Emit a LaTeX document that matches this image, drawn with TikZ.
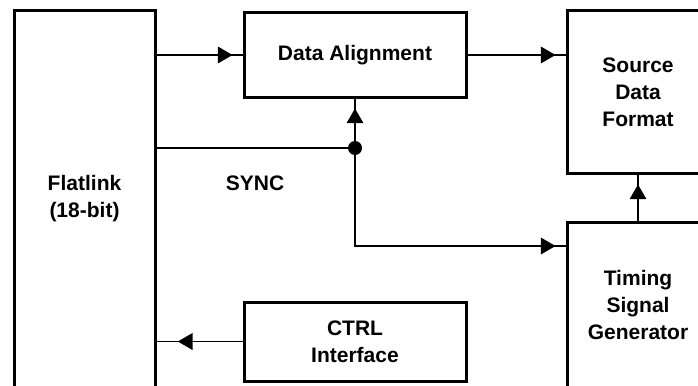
\documentclass[tikz,border=0pt]{standalone}
\usepackage{fontspec}
\setmainfont{Liberation Sans}
\usetikzlibrary{arrows.meta}

\tikzset{
  block/.style={rectangle, draw = black, line width = 2.25pt, text = black,
    align = center, font = \bfseries\fontsize{15.75}{20.25}\selectfont},
  flow/.style={line width = 0.9pt,
    postaction={draw, -{Triangle[length=11pt,width=12.5pt]}, shorten >=#1}},
  flow/.default=7.5pt
}

\begin{document}
\begin{tikzpicture}[x=0.75pt, y=-0.75pt]
\path[use as bounding box, clip] (0,0) rectangle (698,385);

\node[block,
    minimum width = 105.75pt,
    minimum height = 282pt] (flat) at (84.5,199) {Flatlink\\(18-bit)};

\node[block,
    minimum width = 166.5pt,
    minimum height = 63pt] (align) at (355,55) {Data Alignment};

\node[block,
    minimum width = 106.5pt,
    minimum height = 121.5pt] (format) at (638,92) {Source\\Data\\Format};

\node[block,
    minimum width = 106.5pt,
    minimum height = 124.5pt] (timing) at (638,305) {Timing\\Signal\\Generator};

\node[block,
    minimum width = 166.5pt,
    minimum height = 59.25pt] (ctrl) at (355,341.5) {CTRL\\Interface};

\node[font = \bfseries\fontsize{15.75}{20.25}\selectfont] (sync) at (255,183) {SYNC};

\node[circle, fill = black, inner sep = 0pt, minimum size = 10.5pt] (dot) at (355,148) {};
\coordinate (bend) at (355,246);

% connectors
\draw[flow] (align.west -| flat.east) -- (align.west);
\draw[flow] (align.east) -- (align.east -| format.west);
\draw[line width = 0.9pt] (flat.east |- dot) -- (dot);
\draw[flow] (dot) -- (align.south);
\draw[flow] (dot) -- (bend) -- (bend -| timing.west);
\draw[flow] (timing.north) -- (format.south);
\draw[flow=16pt] (ctrl.west) -- (ctrl.west -| flat.east);
\end{tikzpicture}
\end{document}
